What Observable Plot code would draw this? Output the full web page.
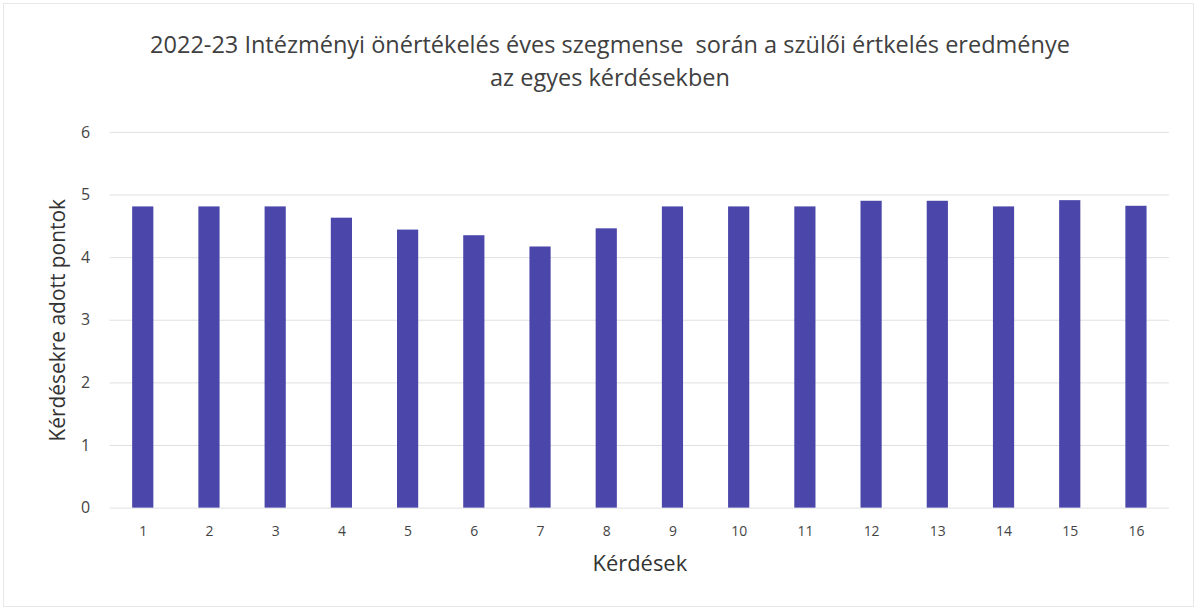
<!DOCTYPE html>
<html>
<head>
<meta charset="utf-8">
<script src="https://cdn.jsdelivr.net/npm/d3@7"></script>
<script src="https://cdn.jsdelivr.net/npm/@observablehq/plot@0.6"></script>
<style>
  html, body { margin: 0; padding: 0; background: #fff; }
  #wrap { position: relative; width: 1189px; height: 602px; margin: 3px; border: 1px solid #e8e8e8; font-family: "Open Sans", sans-serif; }
  #title { position: absolute; left: 0; top: 24px; width: 1212px; text-align: center; font-size: 23.5px; line-height: 33px; color: #404040; }
  #chart { position: absolute; left: -4px; top: 97px; }
</style>
</head>
<body>
<div id="wrap">
  <div id="title">2022-23 Intézményi önértékelés éves szegmense&nbsp; során a szülői értkelés eredménye<br>az egyes kérdésekben</div>
  <div id="chart"></div>
</div>
<script>
const questions = [1,2,3,4,5,6,7,8,9,10,11,12,13,14,15,16];
const scores = [4.81,4.81,4.81,4.63,4.44,4.35,4.17,4.46,4.81,4.81,4.81,4.9,4.9,4.81,4.91,4.82];
const yTicks = [0,1,2,3,4,5,6];

const data = questions.map((q, i) => ({q, v: scores[i]}));

const chart = Plot.plot({
  width: 1197,
  height: 510,
  marginTop: 31,
  marginBottom: 102,
  marginLeft: 110,
  marginRight: 24,
  style: {fontFamily: "'Open Sans', sans-serif", fontSize: "14px", color: "#444", background: "transparent"},
  x: {domain: questions, paddingInner: 0.68, paddingOuter: 0.34, round: false, label: null},
  y: {domain: [0, 6], ticks: yTicks, label: null},
  marks: [
    Plot.gridY(yTicks, {stroke: "#e0e0e0", strokeOpacity: 1}),
    Plot.barY(data, {x: "q", y: "v", fill: "#4a46aa"}),
    Plot.axisX({tickSize: 0, tickPadding: 18, fontSize: 14, fill: "#444"}),
    Plot.axisY(yTicks, {tickSize: 0, tickPadding: 20, fontSize: 16, fill: "#444", tickFormat: "d"}),
    Plot.text(["Kérdések"], {frameAnchor: "bottom", dy: 63, fontSize: 22, fill: "#333"}),
    Plot.text(["Kérdésekre adott pontok"], {frameAnchor: "left", textAnchor: "middle", dx: -52, rotate: -90, fontSize: 21, fill: "#333"})
  ]
});
document.getElementById("chart").appendChild(chart);
</script>
</body>
</html>
